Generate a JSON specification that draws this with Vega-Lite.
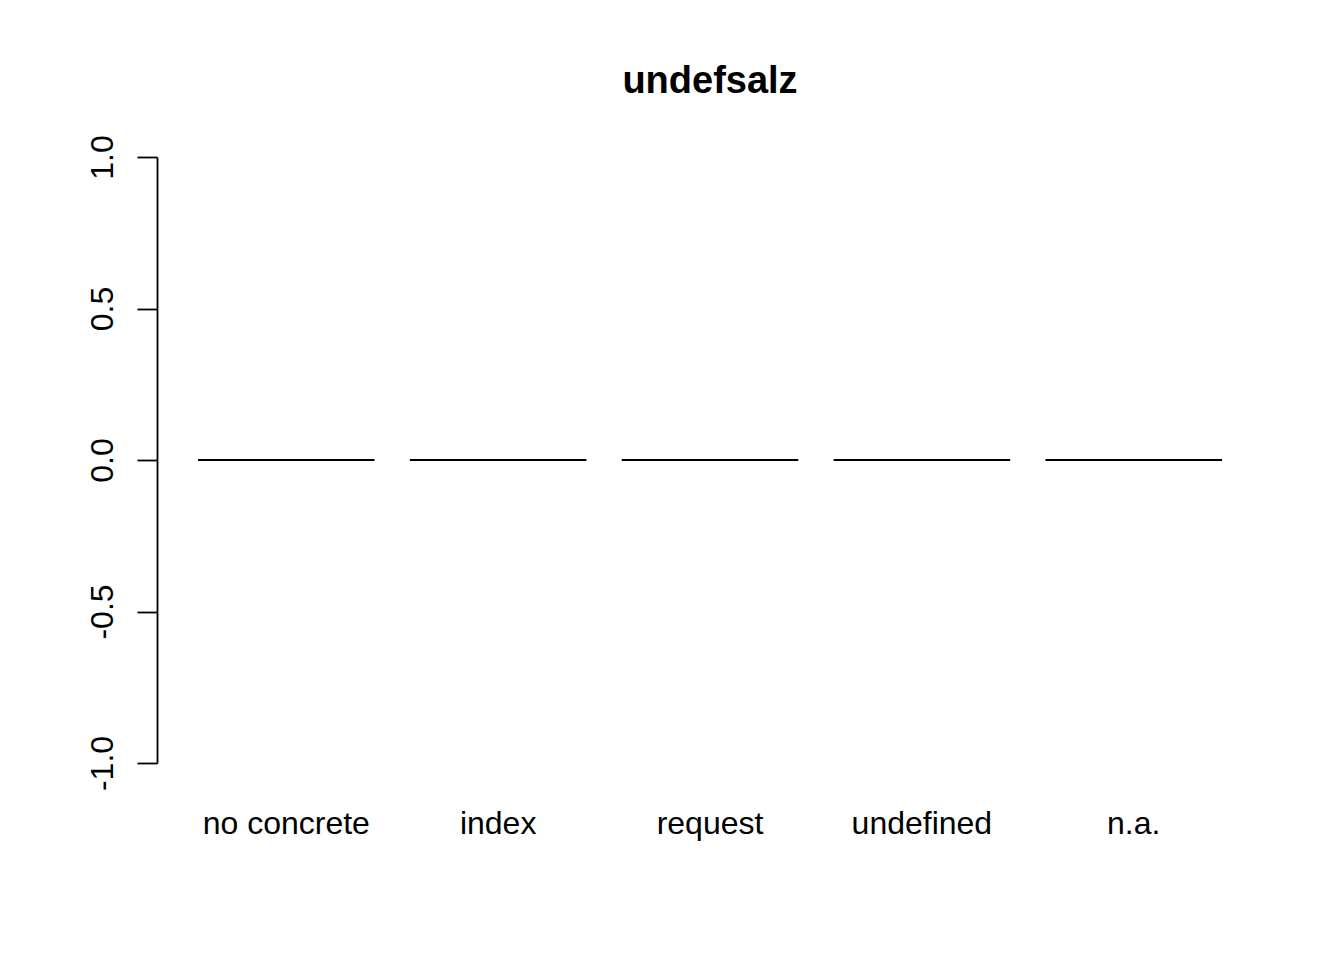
{
  "$schema": "https://vega.github.io/schema/vega-lite/v6.json",
  "autosize": "none",
  "width": 1106,
  "height": 606,
  "padding": {"left": 157, "top": 157, "right": 81, "bottom": 197},
  "background": "white",
  "config": {
    "view": {"stroke": null},
    "font": "Liberation Sans"
  },
  "title": {
    "text": "undefsalz",
    "frame": "group",
    "anchor": "middle",
    "font": "Liberation Sans",
    "fontSize": 38,
    "fontWeight": "bold",
    "color": "black",
    "baseline": "alphabetic",
    "offset": 4
  },
  "data": {
    "values": [
      {"category": "no concrete", "value": 0},
      {"category": "index", "value": 0},
      {"category": "request", "value": 0},
      {"category": "undefined", "value": 0},
      {"category": "n.a.", "value": 0}
    ]
  },
  "mark": {"type": "bar", "fill": "white", "stroke": "black", "strokeWidth": 1.8},
  "encoding": {
    "x": {
      "field": "category",
      "type": "nominal",
      "sort": null,
      "scale": {"paddingInner": 0.1667, "paddingOuter": 0.1935},
      "axis": {
        "title": null,
        "domain": false,
        "ticks": false,
        "tickSize": 0,
        "labelAngle": 0,
        "labelFontSize": 32,
        "labelFont": "Liberation Sans",
        "labelColor": "black",
        "labelBaseline": "alphabetic",
        "labelPadding": 70
      }
    },
    "y": {
      "field": "value",
      "type": "quantitative",
      "scale": {"domain": [-1, 1], "nice": false, "zero": false},
      "axis": {
        "title": null,
        "values": [-1, -0.5, 0, 0.5, 1],
        "format": ".1f",
        "labelExpr": "replace(datum.label, '\u2212', '-')",
        "grid": false,
        "domainColor": "black",
        "domainWidth": 1.8,
        "tickColor": "black",
        "tickWidth": 1.8,
        "tickSize": 20,
        "labelAngle": 270,
        "labelAlign": "center",
        "labelBaseline": "alphabetic",
        "labelPadding": 25,
        "labelFontSize": 32,
        "labelFont": "Liberation Sans",
        "labelColor": "black"
      }
    },
    "y2": {"datum": 0}
  }
}
